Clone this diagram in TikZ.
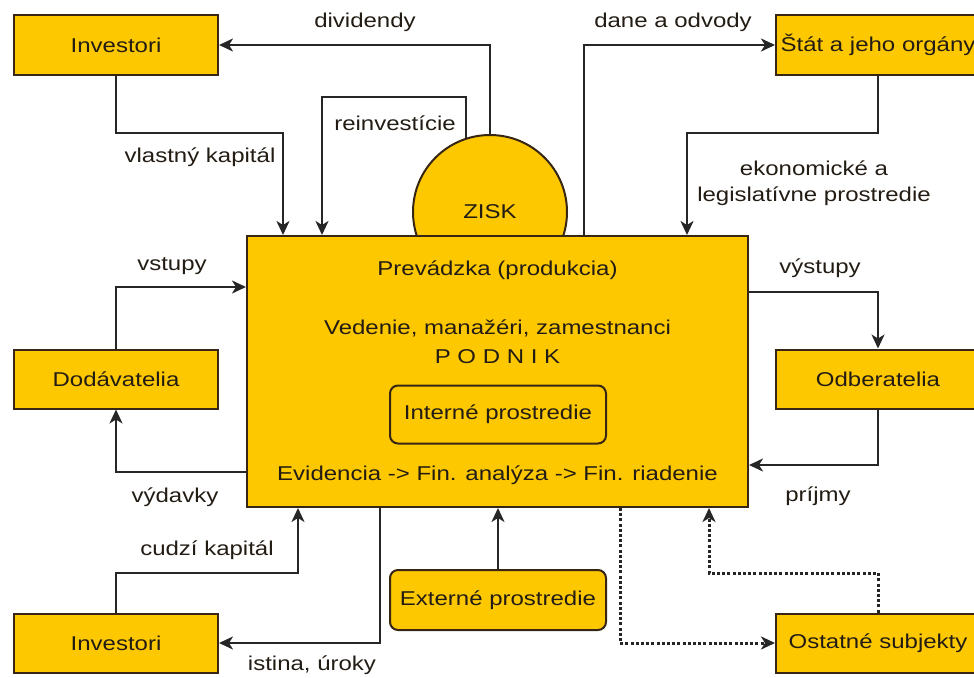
\documentclass[tikz,border=0pt]{standalone}
\usepackage{fontspec}
\setmainfont{Liberation Sans}[FakeStretch=1.2]
\usetikzlibrary{arrows.meta,shapes.geometric}
\definecolor{gold}{RGB}{253,200,0}
\definecolor{edge}{RGB}{55,38,20}
\definecolor{ink}{RGB}{35,28,20}
\begin{document}
\begin{tikzpicture}[x=1pt,y=-1pt,
  font=\fontsize{20}{26}\selectfont, text=ink,
  box/.style={draw=edge, fill=gold, line width=2pt, minimum width=204pt, minimum height=59pt, inner sep=0pt},
  rbox/.style={box, rounded corners=8pt, minimum width=216pt, minimum height=58pt},
  arr/.style={draw=black!85, line width=2pt, -{Stealth[length=14pt,width=13pt,inset=4pt]}},
  dots/.style={arr, line width=3pt, dash pattern=on 3pt off 2.2pt},
  lab/.style={inner sep=0pt}]
\useasboundingbox (0,0) rectangle (974,677);

% ZISK circle (behind main box)
\node[circle, draw=edge, fill=gold, line width=2pt, minimum size=154pt, inner sep=0pt] (zisk) at (490,212) {};
\node[lab] (zisktxt) at (490,212) {ZISK};

% main box
\node[box, minimum width=501pt, minimum height=271pt] (main) at (497.5,371.5) {};
\node[lab] (prev) at (497.5,270) {Prevádzka (produkcia)};
\node[lab] (ved) at (497.5,328) {Vedenie, manažéri, zamestnanci};
\node[lab] (podnik) at (497.5,357) {P O D N I K};
\node[rbox] (int) at (498,414.5) {Interné prostredie};
\node[lab] (evid) at (497.5,475) {Evidencia -> Fin. analýza -> Fin. riadenie};

% outer boxes
\node[box] (inv1) at (116,45) {Investori};
\node[box] (stat) at (878,45) {Štát a jeho orgány};
\node[box] (dod) at (116,379) {Dodávatelia};
\node[box] (odb) at (878,379) {Odberatelia};
\node[box] (inv2) at (116,643) {Investori};
\node[box] (ost) at (878,643) {Ostatné subjekty};
\node[rbox, minimum height=60pt] (ext) at (498,600) {Externé prostredie};

% bend coordinates
\coordinate (rb) at (322,97);
\coordinate (vb) at (283,133);
\coordinate (db) at (584,45);
\coordinate (eb) at (687,133);
\coordinate (vsb) at (116,287);
\coordinate (vyb) at (116,472);
\coordinate (vob) at (878,292);
\coordinate (pb) at (878,465);
\coordinate (cb) at (298,573);
\coordinate (ib) at (380,643);
\coordinate (ob) at (620,643);
\coordinate (ib2) at (709,573);

% connectors
\draw[arr] (zisk.north) |- (inv1.east);
\draw[arr] (zisk.108) |- (rb) -- (rb |- main.north);
\draw[arr] (inv1.south) |- (vb) -- (vb |- main.north);
\draw[arr] (db |- main.north) -- (db) -- (stat.west);
\draw[arr] (stat.south) |- (eb) -- (eb |- main.north);
\draw[arr] (dod.north) -- (vsb) -- (vsb -| main.west);
\draw[arr] (vyb -| main.west) -- (vyb) -- (dod.south);
\draw[arr] (vob -| main.east) -- (vob) -- (odb.north);
\draw[arr] (odb.south) -- (pb) -- (pb -| main.east);
\draw[arr] (inv2.north) |- (cb) -- (cb |- main.south);
\draw[arr] (ib |- main.south) -- (ib) -- (inv2.east);
\draw[arr] (ext.north) -- (ext.north |- main.south);
\draw[dots] (ob |- main.south) -- (ob) -- (ost.west);
\draw[dots] (ost.north) |- (ib2) -- (ib2 |- main.south);

% labels
\node[lab] (l1) at (365,22) {dividendy};
\node[lab] (l2) at (395,123) {reinvestície};
\node[lab] (l3) at (200,157) {vlastný kapitál};
\node[lab] (l4) at (673,22) {dane a odvody};
\node[lab, align=center] (l5) at (814,183) {ekonomické a\\legislatívne prostredie};
\node[lab] (l6) at (172,266) {vstupy};
\node[lab] (l7) at (175,497) {výdavky};
\node[lab] (l8) at (820,268) {výstupy};
\node[lab] (l9) at (818,496) {príjmy};
\node[lab] (l10) at (207,550) {cudzí kapitál};
\node[lab] (l11) at (312,665) {istina, úroky};
\end{tikzpicture}
\end{document}
